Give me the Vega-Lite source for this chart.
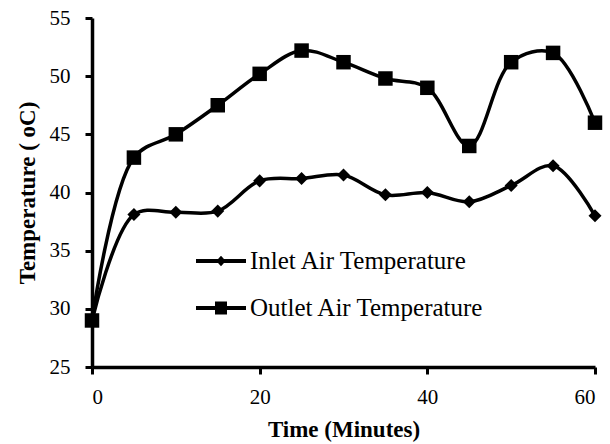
{
  "$schema": "https://vega.github.io/schema/vega-lite/v6.json",
  "width": 503,
  "height": 349,
  "autosize": "none",
  "padding": {"left": 92, "top": 18, "right": 15, "bottom": 77},
  "background": "white",
  "config": {
    "view": {"stroke": null},
    "font": "Liberation Serif, Times New Roman, serif",
    "axis": {
      "grid": false,
      "domainColor": "black",
      "domainWidth": 3.5,
      "tickColor": "black",
      "tickWidth": 3,
      "tickSize": 7,
      "labelFont": "Liberation Serif, Times New Roman, serif",
      "labelFontSize": 21,
      "labelColor": "black",
      "titleFont": "Liberation Serif, Times New Roman, serif",
      "titleFontSize": 23,
      "titleFontWeight": "bold",
      "titleColor": "black"
    }
  },
  "data": {
    "values": [
      {"time": 0, "temp": 29, "series": "Inlet Air Temperature"},
      {"time": 5, "temp": 38.1, "series": "Inlet Air Temperature"},
      {"time": 10, "temp": 38.3, "series": "Inlet Air Temperature"},
      {"time": 15, "temp": 38.4, "series": "Inlet Air Temperature"},
      {"time": 20, "temp": 41.0, "series": "Inlet Air Temperature"},
      {"time": 25, "temp": 41.2, "series": "Inlet Air Temperature"},
      {"time": 30, "temp": 41.5, "series": "Inlet Air Temperature"},
      {"time": 35, "temp": 39.8, "series": "Inlet Air Temperature"},
      {"time": 40, "temp": 40.0, "series": "Inlet Air Temperature"},
      {"time": 45, "temp": 39.2, "series": "Inlet Air Temperature"},
      {"time": 50, "temp": 40.6, "series": "Inlet Air Temperature"},
      {"time": 55, "temp": 42.3, "series": "Inlet Air Temperature"},
      {"time": 60, "temp": 38.0, "series": "Inlet Air Temperature"},
      {"time": 0, "temp": 29, "series": "Outlet Air Temperature"},
      {"time": 5, "temp": 43.0, "series": "Outlet Air Temperature"},
      {"time": 10, "temp": 45.0, "series": "Outlet Air Temperature"},
      {"time": 15, "temp": 47.5, "series": "Outlet Air Temperature"},
      {"time": 20, "temp": 50.2, "series": "Outlet Air Temperature"},
      {"time": 25, "temp": 52.2, "series": "Outlet Air Temperature"},
      {"time": 30, "temp": 51.2, "series": "Outlet Air Temperature"},
      {"time": 35, "temp": 49.8, "series": "Outlet Air Temperature"},
      {"time": 40, "temp": 49.0, "series": "Outlet Air Temperature"},
      {"time": 45, "temp": 44.0, "series": "Outlet Air Temperature"},
      {"time": 50, "temp": 51.2, "series": "Outlet Air Temperature"},
      {"time": 55, "temp": 52.0, "series": "Outlet Air Temperature"},
      {"time": 60, "temp": 46.0, "series": "Outlet Air Temperature"}
    ]
  },
  "encoding": {
    "x": {
      "field": "time",
      "type": "quantitative",
      "scale": {"domain": [0, 60], "nice": false, "zero": false},
      "axis": {"values": [0, 20, 40, 60], "title": "Time (Minutes)", "labelPadding": 12, "titlePadding": 11}
    },
    "y": {
      "field": "temp",
      "type": "quantitative",
      "scale": {"domain": [25, 55], "nice": false, "zero": false},
      "axis": {"values": [25, 30, 35, 40, 45, 50, 55], "title": "Temperature ( oC)", "labelPadding": 15, "titlePadding": 10}
    }
  },
  "layer": [
    {
      "mark": {"type": "line", "interpolate": "catmull-rom", "color": "black", "strokeWidth": 3.5},
      "encoding": {"detail": {"field": "series"}}
    },
    {
      "transform": [{"filter": "datum.series === 'Inlet Air Temperature'"}],
      "mark": {"type": "point", "shape": "diamond", "filled": true, "color": "black", "opacity": 1, "size": 170}
    },
    {
      "transform": [{"filter": "datum.series === 'Outlet Air Temperature'"}],
      "mark": {"type": "point", "shape": "square", "filled": true, "color": "black", "opacity": 1, "size": 210}
    },
    {
      "mark": {"type": "point", "filled": true, "color": "black", "opacity": 0, "size": 2500},
      "encoding": {
        "shape": {
          "field": "series",
          "type": "nominal",
          "scale": {
            "domain": ["Inlet Air Temperature", "Outlet Air Temperature"],
            "range": [
              "M-1,-0.08L1,-0.08L1,0.08L-1,0.08Z M0,-0.21L0.19,0L0,0.21L-0.19,0Z",
              "M-1,-0.08L1,-0.08L1,0.08L-1,0.08Z M-0.24,-0.26L0.24,-0.26L0.24,0.26L-0.24,0.26Z"
            ]
          },
          "legend": {
            "title": null,
            "orient": "none",
            "legendX": 104,
            "legendY": 218,
            "symbolOpacity": 1,
            "symbolFillColor": "black",
            "symbolStrokeWidth": 0,
            "symbolSize": 2500,
            "labelOffset": 4,
            "labelFont": "Liberation Serif, Times New Roman, serif",
            "labelFontSize": 25,
            "labelColor": "black",
            "labelLimit": 400,
            "rowPadding": 9,
            "padding": 0
          }
        }
      }
    }
  ]
}
